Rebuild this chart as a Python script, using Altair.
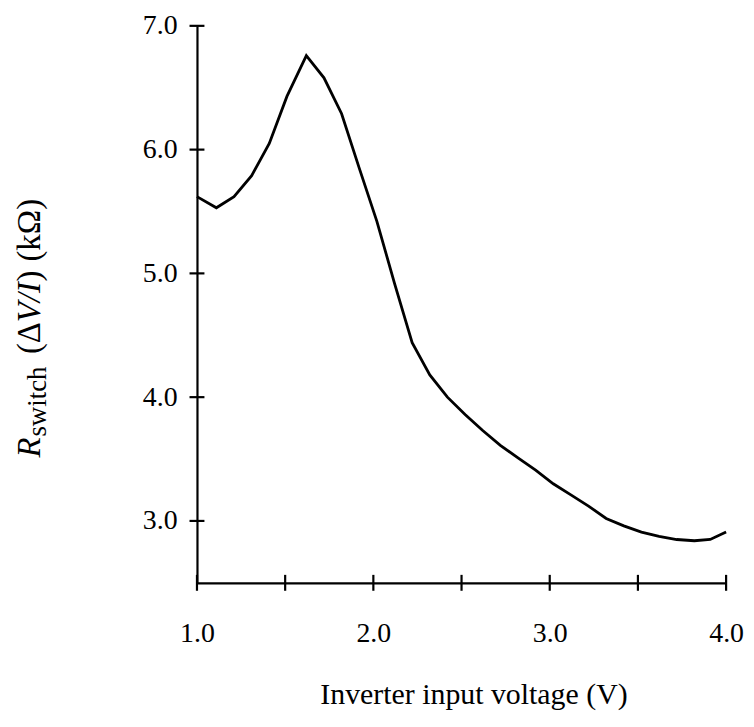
import altair as alt
import pandas as pd

# ---- data ----
volts = [1.00, 1.11, 1.21, 1.31, 1.41, 1.51, 1.62, 1.72, 1.82, 1.92, 2.02, 2.12,
         2.22, 2.32, 2.42, 2.52, 2.62, 2.72, 2.82, 2.92, 3.02, 3.12, 3.22, 3.32,
         3.42, 3.52, 3.62, 3.72, 3.82, 3.91, 4.00]
r_switch = [5.62, 5.53, 5.62, 5.79, 6.05, 6.43, 6.76, 6.58, 6.29, 5.85, 5.42, 4.92,
            4.44, 4.18, 4.00, 3.86, 3.73, 3.61, 3.51, 3.41, 3.30, 3.21, 3.12, 3.02,
            2.96, 2.91, 2.875, 2.85, 2.84, 2.85, 2.91]

x_tick_values = [1.0, 1.5, 2.0, 2.5, 3.0, 3.5, 4.0]
x_label_values = [1.0, 2.0, 3.0, 4.0]
y_tick_values = [3.0, 4.0, 5.0, 6.0, 7.0]
x_title = "Inverter input voltage (V)"
y_title_main = ["R"]
y_title_sub = ["switch"]
y_title_paren_open = ["(\u0394"]
y_title_italic = ["V/I"]
y_title_paren_close = [")"]
y_title_unit = ["(k\u03a9)"]

FONT = "Liberation Serif"
FS = 28

df = pd.DataFrame({"v": volts, "r": r_switch})
xscale = alt.Scale(domain=[1.0, 4.0], nice=False, zero=False)
yscale = alt.Scale(domain=[2.5, 7.0], nice=False, zero=False)

xaxis = alt.Axis(values=x_label_values, format=".1f", ticks=False,
                 domain=True, domainColor="black", domainWidth=2.2,
                 labelFont=FONT, labelFontSize=FS, labelColor="black",
                 labelPadding=37, labelFlush=False, grid=False,
                 title=x_title, titleFont=FONT, titleFontSize=30,
                 titleFontWeight="normal", titleColor="black",
                 titlePadding=32, titleX=278, titleAlign="center")
yaxis = alt.Axis(values=y_tick_values, format=".1f", ticks=False,
                 domain=True, domainColor="black", domainWidth=2.2,
                 labelFont=FONT, labelFontSize=FS, labelColor="black",
                 labelPadding=20, grid=False, title=None)

line = alt.Chart(df).mark_line(color="black", strokeWidth=2.8).encode(
    x=alt.X("v:Q", scale=xscale, axis=xaxis),
    y=alt.Y("r:Q", scale=yscale, axis=yaxis),
)

xticks = alt.Chart(pd.DataFrame({"v": x_tick_values})).mark_tick(
    color="black", thickness=2.2, size=16, orient="vertical", opacity=1
).encode(
    x=alt.X("v:Q", scale=xscale, axis=xaxis),
    y=alt.datum(2.5, scale=yscale, axis=yaxis),
)

yticks = alt.Chart(pd.DataFrame({"r": y_tick_values})).mark_tick(
    color="black", thickness=2.2, size=15, orient="horizontal", opacity=1
).encode(
    x=alt.datum(1.0, scale=xscale, axis=xaxis),
    y=alt.Y("r:Q", scale=yscale, axis=yaxis),
)


def title_part(parts, y, x, size, style="normal"):
    return alt.Chart(pd.DataFrame({"t": parts})).mark_text(
        angle=270, align="left", baseline="alphabetic", font=FONT,
        fontSize=size, fontStyle=style, color="black"
    ).encode(text="t:N", x=alt.value(x), y=alt.value(y))


TX = -158
ytitle = [
    title_part(y_title_main, 434, TX, 33, "italic"),
    title_part(y_title_sub, 413, TX + 6, 27),
    title_part(y_title_paren_open, 330, TX, 33),
    title_part(y_title_italic, 298, TX, 33, "italic"),
    title_part(y_title_paren_close, 257, TX, 33),
    title_part(y_title_unit, 237, TX, 33),
]

chart = alt.layer(line, xticks, yticks, *ytitle).properties(
    width=532, height=560,
    autosize=alt.AutoSizeParams(type="none"),
    padding={"left": 190, "top": 16, "right": 20, "bottom": 138},
    background="white",
).configure_view(stroke=None)

chart.save("out.html", embed_options={"renderer": "svg", "actions": False})
